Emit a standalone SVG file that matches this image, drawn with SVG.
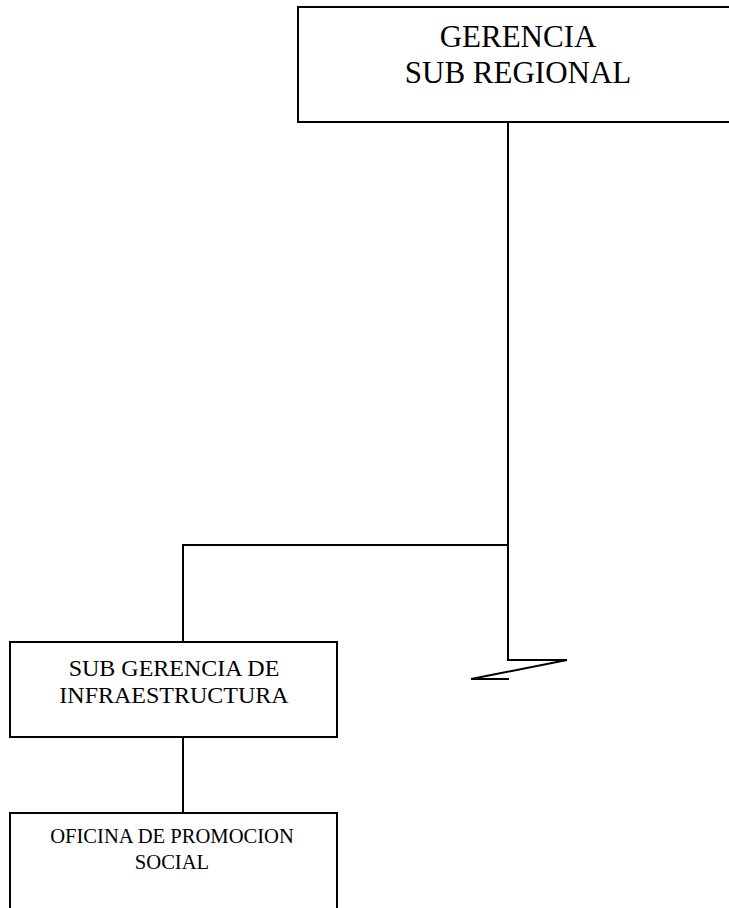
<svg xmlns="http://www.w3.org/2000/svg" width="729" height="908" viewBox="0 0 729 908">
<style>
.box{fill:#fff;stroke:#000;stroke-width:2}
.ln{fill:none;stroke:#000;stroke-width:2}
text{font-family:"Liberation Serif","Times New Roman",serif;fill:#000;text-anchor:middle}
</style>
<rect width="729" height="908" fill="#fff"/>
<g id="connectors">
<path class="ln" d="M508,122 V660 H567 L471,679 H509"/>
<path class="ln" d="M508,545 H183 V642"/>
<path class="ln" d="M183,737 V813"/>
</g>
<g id="gerencia">
<rect class="box" x="298" y="7" width="440" height="115"/>
<text x="518" y="47" font-size="31">GERENCIA</text>
<text x="518" y="83" font-size="31">SUB REGIONAL</text>
</g>
<g id="subgerencia">
<rect class="box" x="10" y="642" width="327" height="95"/>
<text x="174" y="676" font-size="24">SUB GERENCIA DE</text>
<text x="174" y="703" font-size="24">INFRAESTRUCTURA</text>
</g>
<g id="oficina">
<rect class="box" x="10" y="813" width="327" height="110"/>
<text x="172" y="843" font-size="20.6">OFICINA DE PROMOCION</text>
<text x="172" y="869" font-size="20.6">SOCIAL</text>
</g>
</svg>
